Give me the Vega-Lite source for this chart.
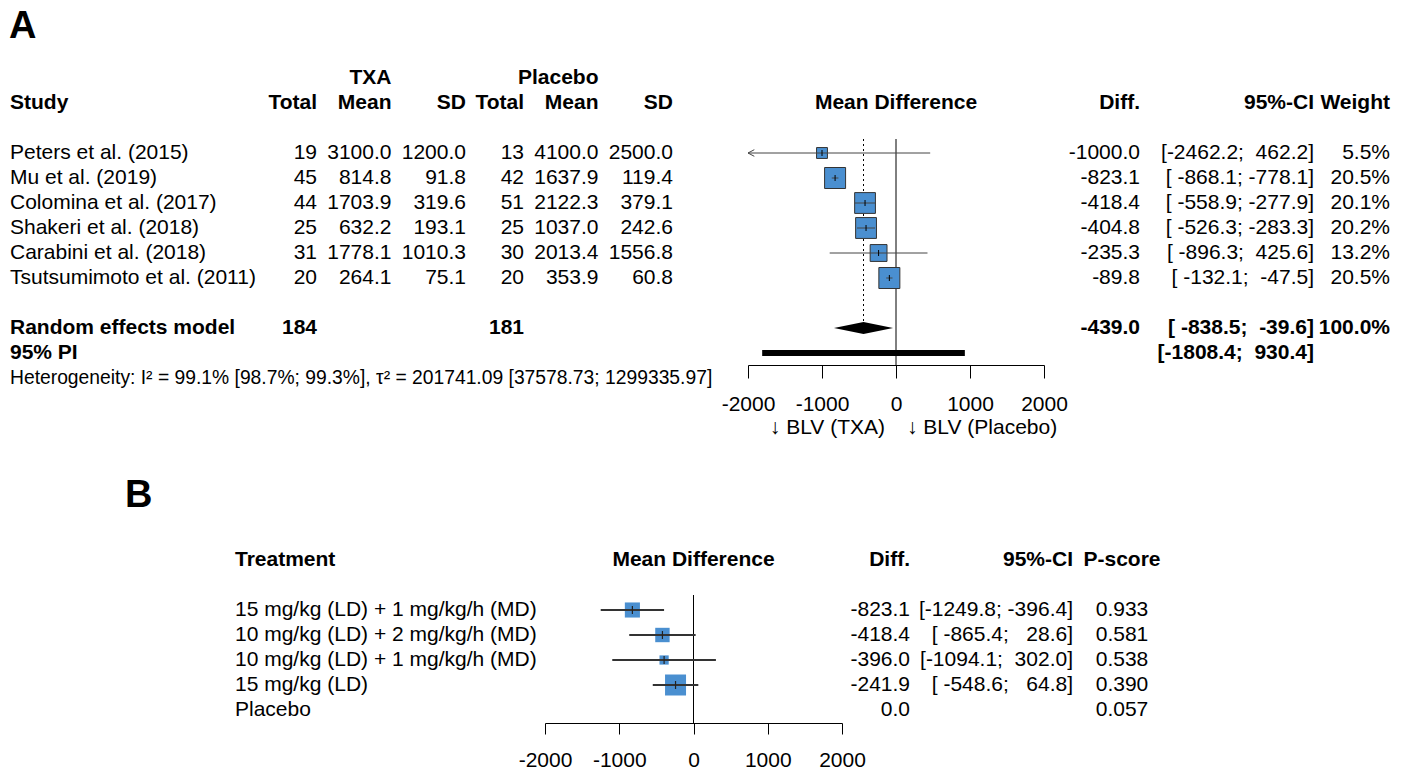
{
"$schema":"https://vega.github.io/schema/vega-lite/v6.json",
"width":1405,"height":772,"autosize":{"type":"none"},"padding":0,"background":"white",
"config":{"view":{"stroke":null},"font":"Liberation Sans","text":{"font":"Liberation Sans","fontSize":21,"color":"#000000","baseline":"middle"},"locale":{"number":{"decimal":".","thousands":",","grouping":[3],"currency":["$",""],"minus":"-"}}},
"datasets":{
"panels":[{"panel":"A"},{"panel":"B"}],
"studiesA":[
{"study":"Peters et al. (2015)","n_txa":19,"mean_txa":3100.0,"sd_txa":1200.0,"n_pl":13,"mean_pl":4100.0,"sd_pl":2500.0,"md":-1000.0,"lower":-2462.2,"upper":462.2,"ci":"[-2462.2;\u00a0\u00a0462.2]","weight":0.055},
{"study":"Mu et al. (2019)","n_txa":45,"mean_txa":814.8,"sd_txa":91.8,"n_pl":42,"mean_pl":1637.9,"sd_pl":119.4,"md":-823.1,"lower":-868.1,"upper":-778.1,"ci":"[\u00a0-868.1;\u00a0-778.1]","weight":0.205},
{"study":"Colomina et al. (2017)","n_txa":44,"mean_txa":1703.9,"sd_txa":319.6,"n_pl":51,"mean_pl":2122.3,"sd_pl":379.1,"md":-418.4,"lower":-558.9,"upper":-277.9,"ci":"[\u00a0-558.9;\u00a0-277.9]","weight":0.201},
{"study":"Shakeri et al. (2018)","n_txa":25,"mean_txa":632.2,"sd_txa":193.1,"n_pl":25,"mean_pl":1037.0,"sd_pl":242.6,"md":-404.8,"lower":-526.3,"upper":-283.3,"ci":"[\u00a0-526.3;\u00a0-283.3]","weight":0.202},
{"study":"Carabini et al. (2018)","n_txa":31,"mean_txa":1778.1,"sd_txa":1010.3,"n_pl":30,"mean_pl":2013.4,"sd_pl":1556.8,"md":-235.3,"lower":-896.3,"upper":425.6,"ci":"[\u00a0-896.3;\u00a0\u00a0425.6]","weight":0.132},
{"study":"Tsutsumimoto et al. (2011)","n_txa":20,"mean_txa":264.1,"sd_txa":75.1,"n_pl":20,"mean_pl":353.9,"sd_pl":60.8,"md":-89.8,"lower":-132.1,"upper":-47.5,"ci":"[\u00a0-132.1;\u00a0\u00a0-47.5]","weight":0.205}
],
"pooledA":[{"model":"Random effects model","pi_label":"95% PI","n_txa":184,"n_pl":181,"md":-439.0,"lower":-838.5,"upper":-39.6,"ci":"[\u00a0-838.5;\u00a0\u00a0-39.6]","weight":1.0,"pi_lower":-1808.4,"pi_upper":930.4,"pi":"[-1808.4;\u00a0\u00a0930.4]"}],
"hetA":[{"row":"Heterogeneity","label":"Heterogeneity: I² = 99.1% [98.7%; 99.3%], τ² = 201741.09 [37578.73; 1299335.97]"}],
"treatB":[
{"treatment":"15 mg/kg (LD) + 1 mg/kg/h (MD)","md":-823.1,"lower":-1249.8,"upper":-396.4,"ci":"[-1249.8;\u00a0-396.4]","pscore":0.933,"se":217.7},
{"treatment":"10 mg/kg (LD) + 2 mg/kg/h (MD)","md":-418.4,"lower":-865.4,"upper":28.6,"ci":"[\u00a0-865.4;\u00a0\u00a0\u00a028.6]","pscore":0.581,"se":228.1},
{"treatment":"10 mg/kg (LD) + 1 mg/kg/h (MD)","md":-396.0,"lower":-1094.1,"upper":302.0,"ci":"[-1094.1;\u00a0\u00a0302.0]","pscore":0.538,"se":356.1},
{"treatment":"15 mg/kg (LD)","md":-241.9,"lower":-548.6,"upper":64.8,"ci":"[\u00a0-548.6;\u00a0\u00a0\u00a064.8]","pscore":0.390,"se":156.5},
{"treatment":"Placebo","md":0.0,"pscore":0.057}
]
},
"resolve":{"scale":{"x":"independent","y":"independent","size":"independent"}},
"layer":[
{"data":{"name":"panels"},"mark":{"type":"text","align":"left","fontSize":38,"fontWeight":"bold"},
 "encoding":{"x":{"field":"panel","type":"nominal","scale":{"type":"point","padding":0,"domain":["A","B"],"range":[9,125]},"axis":null},
 "y":{"field":"panel","type":"nominal","scale":{"type":"point","padding":0,"domain":["A","B"],"range":[27,496]},"axis":null},
 "text":{"field":"panel","type":"nominal"}}},

{"data":{"values":[{"c":"study","t":"Study","r":"hdr"},{"c":"study","t":"95% PI","r":"95% PI"}]},"mark":{"type":"text","align":"left","fontWeight":"bold"},
 "encoding":{"x":{"field":"c","type":"nominal","scale":{"type":"point","padding":0,"domain":["study"],"range":[10,10]},"axis":null},
 "y":{"field":"r","type":"nominal","scale":{"type":"point","padding":0,"range":[78,428],"domain":["hdrTop","hdr","gap1","Peters et al. (2015)","Mu et al. (2019)","Colomina et al. (2017)","Shakeri et al. (2018)","Carabini et al. (2018)","Tsutsumimoto et al. (2011)","gap2","Random effects model","95% PI","Heterogeneity","ticks","blv"]},"axis":null},"text":{"field":"t","type":"nominal"}}},
{"data":{"name":"studiesA"},"mark":{"type":"text","align":"left"},
 "encoding":{"x":{"datum":"study","type":"nominal","scale":{"type":"point","padding":0,"domain":["study"],"range":[10,10]},"axis":null},
 "y":{"field":"study","type":"nominal","scale":{"type":"point","padding":0,"range":[78,428],"domain":["hdrTop","hdr","gap1","Peters et al. (2015)","Mu et al. (2019)","Colomina et al. (2017)","Shakeri et al. (2018)","Carabini et al. (2018)","Tsutsumimoto et al. (2011)","gap2","Random effects model","95% PI","Heterogeneity","ticks","blv"]},"axis":null},"text":{"field":"study","type":"nominal"}}},
{"data":{"name":"pooledA"},"mark":{"type":"text","align":"left","fontWeight":"bold"},
 "encoding":{"x":{"datum":"study","type":"nominal","scale":{"type":"point","padding":0,"domain":["study"],"range":[10,10]},"axis":null},
 "y":{"field":"model","type":"nominal","scale":{"type":"point","padding":0,"range":[78,428],"domain":["hdrTop","hdr","gap1","Peters et al. (2015)","Mu et al. (2019)","Colomina et al. (2017)","Shakeri et al. (2018)","Carabini et al. (2018)","Tsutsumimoto et al. (2011)","gap2","Random effects model","95% PI","Heterogeneity","ticks","blv"]},"axis":null},"text":{"field":"model","type":"nominal"}}},
{"data":{"name":"hetA"},"mark":{"type":"text","align":"left","fontSize":19.3},
 "encoding":{"x":{"datum":"study","type":"nominal","scale":{"type":"point","padding":0,"domain":["study"],"range":[10,10]},"axis":null},
 "y":{"field":"row","type":"nominal","scale":{"type":"point","padding":0,"range":[78,428],"domain":["hdrTop","hdr","gap1","Peters et al. (2015)","Mu et al. (2019)","Colomina et al. (2017)","Shakeri et al. (2018)","Carabini et al. (2018)","Tsutsumimoto et al. (2011)","gap2","Random effects model","95% PI","Heterogeneity","ticks","blv"]},"axis":null},"text":{"field":"label","type":"nominal"}}},

{"data":{"values":[{"c":"mean_txa","r":"hdrTop","t":"TXA"},{"c":"n_txa","r":"hdr","t":"Total"},{"c":"mean_txa","r":"hdr","t":"Mean"},{"c":"sd_txa","r":"hdr","t":"SD"}]},"mark":{"type":"text","align":"right","fontWeight":"bold"},
 "encoding":{"x":{"field":"c","type":"nominal","scale":{"type":"point","padding":0,"domain":["n_txa","mean_txa","sd_txa"],"range":[317,466]},"axis":null},
 "y":{"field":"r","type":"nominal","scale":{"type":"point","padding":0,"range":[78,428],"domain":["hdrTop","hdr","gap1","Peters et al. (2015)","Mu et al. (2019)","Colomina et al. (2017)","Shakeri et al. (2018)","Carabini et al. (2018)","Tsutsumimoto et al. (2011)","gap2","Random effects model","95% PI","Heterogeneity","ticks","blv"]},"axis":null},"text":{"field":"t","type":"nominal"}}},
{"data":{"name":"studiesA"},"mark":{"type":"text","align":"right"},
 "encoding":{"x":{"datum":"n_txa","type":"nominal","scale":{"type":"point","padding":0,"domain":["n_txa","mean_txa","sd_txa"],"range":[317,466]},"axis":null},
 "y":{"field":"study","type":"nominal","scale":{"type":"point","padding":0,"range":[78,428],"domain":["hdrTop","hdr","gap1","Peters et al. (2015)","Mu et al. (2019)","Colomina et al. (2017)","Shakeri et al. (2018)","Carabini et al. (2018)","Tsutsumimoto et al. (2011)","gap2","Random effects model","95% PI","Heterogeneity","ticks","blv"]},"axis":null},"text":{"field":"n_txa","type":"quantitative","format":"d"}}},
{"data":{"name":"studiesA"},"transform":[{"fold":["mean_txa","sd_txa"],"as":["c","v"]}],"mark":{"type":"text","align":"right"},
 "encoding":{"x":{"field":"c","type":"nominal","scale":{"type":"point","padding":0,"domain":["n_txa","mean_txa","sd_txa"],"range":[317,466]},"axis":null},
 "y":{"field":"study","type":"nominal","scale":{"type":"point","padding":0,"range":[78,428],"domain":["hdrTop","hdr","gap1","Peters et al. (2015)","Mu et al. (2019)","Colomina et al. (2017)","Shakeri et al. (2018)","Carabini et al. (2018)","Tsutsumimoto et al. (2011)","gap2","Random effects model","95% PI","Heterogeneity","ticks","blv"]},"axis":null},"text":{"field":"v","type":"quantitative","format":".1f"}}},
{"data":{"name":"pooledA"},"mark":{"type":"text","align":"right","fontWeight":"bold"},
 "encoding":{"x":{"datum":"n_txa","type":"nominal","scale":{"type":"point","padding":0,"domain":["n_txa","mean_txa","sd_txa"],"range":[317,466]},"axis":null},
 "y":{"field":"model","type":"nominal","scale":{"type":"point","padding":0,"range":[78,428],"domain":["hdrTop","hdr","gap1","Peters et al. (2015)","Mu et al. (2019)","Colomina et al. (2017)","Shakeri et al. (2018)","Carabini et al. (2018)","Tsutsumimoto et al. (2011)","gap2","Random effects model","95% PI","Heterogeneity","ticks","blv"]},"axis":null},"text":{"field":"n_txa","type":"quantitative","format":"d"}}},

{"data":{"values":[{"c":"mean_pl","r":"hdrTop","t":"Placebo"},{"c":"n_pl","r":"hdr","t":"Total"},{"c":"mean_pl","r":"hdr","t":"Mean"},{"c":"sd_pl","r":"hdr","t":"SD"}]},"mark":{"type":"text","align":"right","fontWeight":"bold"},
 "encoding":{"x":{"field":"c","type":"nominal","scale":{"type":"point","padding":0,"domain":["n_pl","mean_pl","sd_pl"],"range":[524,673]},"axis":null},
 "y":{"field":"r","type":"nominal","scale":{"type":"point","padding":0,"range":[78,428],"domain":["hdrTop","hdr","gap1","Peters et al. (2015)","Mu et al. (2019)","Colomina et al. (2017)","Shakeri et al. (2018)","Carabini et al. (2018)","Tsutsumimoto et al. (2011)","gap2","Random effects model","95% PI","Heterogeneity","ticks","blv"]},"axis":null},"text":{"field":"t","type":"nominal"}}},
{"data":{"name":"studiesA"},"mark":{"type":"text","align":"right"},
 "encoding":{"x":{"datum":"n_pl","type":"nominal","scale":{"type":"point","padding":0,"domain":["n_pl","mean_pl","sd_pl"],"range":[524,673]},"axis":null},
 "y":{"field":"study","type":"nominal","scale":{"type":"point","padding":0,"range":[78,428],"domain":["hdrTop","hdr","gap1","Peters et al. (2015)","Mu et al. (2019)","Colomina et al. (2017)","Shakeri et al. (2018)","Carabini et al. (2018)","Tsutsumimoto et al. (2011)","gap2","Random effects model","95% PI","Heterogeneity","ticks","blv"]},"axis":null},"text":{"field":"n_pl","type":"quantitative","format":"d"}}},
{"data":{"name":"studiesA"},"transform":[{"fold":["mean_pl","sd_pl"],"as":["c","v"]}],"mark":{"type":"text","align":"right"},
 "encoding":{"x":{"field":"c","type":"nominal","scale":{"type":"point","padding":0,"domain":["n_pl","mean_pl","sd_pl"],"range":[524,673]},"axis":null},
 "y":{"field":"study","type":"nominal","scale":{"type":"point","padding":0,"range":[78,428],"domain":["hdrTop","hdr","gap1","Peters et al. (2015)","Mu et al. (2019)","Colomina et al. (2017)","Shakeri et al. (2018)","Carabini et al. (2018)","Tsutsumimoto et al. (2011)","gap2","Random effects model","95% PI","Heterogeneity","ticks","blv"]},"axis":null},"text":{"field":"v","type":"quantitative","format":".1f"}}},
{"data":{"name":"pooledA"},"mark":{"type":"text","align":"right","fontWeight":"bold"},
 "encoding":{"x":{"datum":"n_pl","type":"nominal","scale":{"type":"point","padding":0,"domain":["n_pl","mean_pl","sd_pl"],"range":[524,673]},"axis":null},
 "y":{"field":"model","type":"nominal","scale":{"type":"point","padding":0,"range":[78,428],"domain":["hdrTop","hdr","gap1","Peters et al. (2015)","Mu et al. (2019)","Colomina et al. (2017)","Shakeri et al. (2018)","Carabini et al. (2018)","Tsutsumimoto et al. (2011)","gap2","Random effects model","95% PI","Heterogeneity","ticks","blv"]},"axis":null},"text":{"field":"n_pl","type":"quantitative","format":"d"}}},

{"data":{"values":[{"x":0,"r":"hdr","t":"Mean Difference"}]},"mark":{"type":"text","align":"center","fontWeight":"bold"},
 "encoding":{"x":{"field":"x","type":"quantitative","scale":{"type":"linear","domain":[-2000,2000],"range":[748,1044],"clamp":true,"nice":false,"zero":false},
   "axis":{"orient":"bottom","offset":-407,"values":[-2000,-1000,0,1000,2000],"format":"d","tickSize":13,"tickWidth":1,"tickColor":"#000000","domainColor":"#000000","domainWidth":1,"labelFont":"Liberation Sans","labelFontSize":21,"labelColor":"#000000","labelPadding":15,"labelFlush":false,"labelOverlap":false,"grid":false,"title":null}},
 "y":{"field":"r","type":"nominal","scale":{"type":"point","padding":0,"range":[78,428],"domain":["hdrTop","hdr","gap1","Peters et al. (2015)","Mu et al. (2019)","Colomina et al. (2017)","Shakeri et al. (2018)","Carabini et al. (2018)","Tsutsumimoto et al. (2011)","gap2","Random effects model","95% PI","Heterogeneity","ticks","blv"]},"axis":null},"text":{"field":"t","type":"nominal"}}},
{"data":{"values":[{"x":0,"r":"Random effects model"}]},"mark":{"type":"rule","color":"#000000","strokeWidth":1,"yOffset":-189,"y2Offset":37},
 "encoding":{"x":{"field":"x","type":"quantitative","scale":{"type":"linear","domain":[-2000,2000],"range":[748,1044],"clamp":true,"nice":false,"zero":false},"axis":null},
 "y":{"field":"r","type":"nominal","scale":{"type":"point","padding":0,"range":[78,428],"domain":["hdrTop","hdr","gap1","Peters et al. (2015)","Mu et al. (2019)","Colomina et al. (2017)","Shakeri et al. (2018)","Carabini et al. (2018)","Tsutsumimoto et al. (2011)","gap2","Random effects model","95% PI","Heterogeneity","ticks","blv"]},"axis":null},"y2":{"field":"r"}}},
{"data":{"name":"pooledA"},"mark":{"type":"rule","color":"#000000","strokeWidth":1,"strokeDash":[2,3],"yOffset":-189},
 "encoding":{"x":{"field":"md","type":"quantitative","scale":{"type":"linear","domain":[-2000,2000],"range":[748,1044],"clamp":true,"nice":false,"zero":false},"axis":null},
 "y":{"field":"model","type":"nominal","scale":{"type":"point","padding":0,"range":[78,428],"domain":["hdrTop","hdr","gap1","Peters et al. (2015)","Mu et al. (2019)","Colomina et al. (2017)","Shakeri et al. (2018)","Carabini et al. (2018)","Tsutsumimoto et al. (2011)","gap2","Random effects model","95% PI","Heterogeneity","ticks","blv"]},"axis":null},"y2":{"field":"model"}}},
{"data":{"name":"studiesA"},"mark":{"type":"square","filled":true,"fill":"#4a8fd0","stroke":"#333333","strokeWidth":1,"opacity":1},
 "encoding":{"x":{"field":"md","type":"quantitative","scale":{"type":"linear","domain":[-2000,2000],"range":[748,1044],"clamp":true,"nice":false,"zero":false},"axis":null},
 "y":{"field":"study","type":"nominal","scale":{"type":"point","padding":0,"range":[78,428],"domain":["hdrTop","hdr","gap1","Peters et al. (2015)","Mu et al. (2019)","Colomina et al. (2017)","Shakeri et al. (2018)","Carabini et al. (2018)","Tsutsumimoto et al. (2011)","gap2","Random effects model","95% PI","Heterogeneity","ticks","blv"]},"axis":null},
 "size":{"field":"weight","type":"quantitative","scale":{"type":"linear","domain":[0,0.205],"range":[0,441]},"legend":null}}},
{"data":{"name":"studiesA"},"mark":{"type":"rule","color":"#444444","strokeWidth":1},
 "encoding":{"x":{"field":"lower","type":"quantitative","scale":{"type":"linear","domain":[-2000,2000],"range":[748,1044],"clamp":true,"nice":false,"zero":false},"axis":null},"x2":{"field":"upper"},
 "y":{"field":"study","type":"nominal","scale":{"type":"point","padding":0,"range":[78,428],"domain":["hdrTop","hdr","gap1","Peters et al. (2015)","Mu et al. (2019)","Colomina et al. (2017)","Shakeri et al. (2018)","Carabini et al. (2018)","Tsutsumimoto et al. (2011)","gap2","Random effects model","95% PI","Heterogeneity","ticks","blv"]},"axis":null}}},
{"data":{"name":"studiesA"},"mark":{"type":"rule","color":"#000000","strokeWidth":1,"yOffset":-3,"y2Offset":3},
 "encoding":{"x":{"field":"md","type":"quantitative","scale":{"type":"linear","domain":[-2000,2000],"range":[748,1044],"clamp":true,"nice":false,"zero":false},"axis":null},
 "y":{"field":"study","type":"nominal","scale":{"type":"point","padding":0,"range":[78,428],"domain":["hdrTop","hdr","gap1","Peters et al. (2015)","Mu et al. (2019)","Colomina et al. (2017)","Shakeri et al. (2018)","Carabini et al. (2018)","Tsutsumimoto et al. (2011)","gap2","Random effects model","95% PI","Heterogeneity","ticks","blv"]},"axis":null},"y2":{"field":"study"}}},
{"data":{"name":"studiesA"},"transform":[{"filter":"datum.lower < -2000"}],"mark":{"type":"point","shape":"M 0.26 -0.66 L -1 0 L 0.26 0.66","filled":false,"size":100,"stroke":"#444444","strokeWidth":1,"xOffset":5,"opacity":1},
 "encoding":{"x":{"field":"lower","type":"quantitative","scale":{"type":"linear","domain":[-2000,2000],"range":[748,1044],"clamp":true,"nice":false,"zero":false},"axis":null},
 "y":{"field":"study","type":"nominal","scale":{"type":"point","padding":0,"range":[78,428],"domain":["hdrTop","hdr","gap1","Peters et al. (2015)","Mu et al. (2019)","Colomina et al. (2017)","Shakeri et al. (2018)","Carabini et al. (2018)","Tsutsumimoto et al. (2011)","gap2","Random effects model","95% PI","Heterogeneity","ticks","blv"]},"axis":null}}},
{"data":{"name":"pooledA"},"mark":{"type":"point","shape":"M -1 0 L 0 -0.2 L 1 0 L 0 0.2 Z","filled":true,"size":3493,"color":"#000000","opacity":1},
 "encoding":{"x":{"field":"md","type":"quantitative","scale":{"type":"linear","domain":[-2000,2000],"range":[748,1044],"clamp":true,"nice":false,"zero":false},"axis":null},
 "y":{"field":"model","type":"nominal","scale":{"type":"point","padding":0,"range":[78,428],"domain":["hdrTop","hdr","gap1","Peters et al. (2015)","Mu et al. (2019)","Colomina et al. (2017)","Shakeri et al. (2018)","Carabini et al. (2018)","Tsutsumimoto et al. (2011)","gap2","Random effects model","95% PI","Heterogeneity","ticks","blv"]},"axis":null}}},
{"data":{"name":"pooledA"},"mark":{"type":"rule","color":"#000000","strokeWidth":6,"strokeCap":"butt"},
 "encoding":{"x":{"field":"pi_lower","type":"quantitative","scale":{"type":"linear","domain":[-2000,2000],"range":[748,1044],"clamp":true,"nice":false,"zero":false},"axis":null},"x2":{"field":"pi_upper"},
 "y":{"field":"pi_label","type":"nominal","scale":{"type":"point","padding":0,"range":[78,428],"domain":["hdrTop","hdr","gap1","Peters et al. (2015)","Mu et al. (2019)","Colomina et al. (2017)","Shakeri et al. (2018)","Carabini et al. (2018)","Tsutsumimoto et al. (2011)","gap2","Random effects model","95% PI","Heterogeneity","ticks","blv"]},"axis":null}}},
{"data":{"values":[{"x":0,"r":"blv","t":"↓ BLV (TXA)"}]},"mark":{"type":"text","align":"right","dx":-11},
 "encoding":{"x":{"field":"x","type":"quantitative","scale":{"type":"linear","domain":[-2000,2000],"range":[748,1044],"clamp":true,"nice":false,"zero":false},"axis":null},
 "y":{"field":"r","type":"nominal","scale":{"type":"point","padding":0,"range":[78,428],"domain":["hdrTop","hdr","gap1","Peters et al. (2015)","Mu et al. (2019)","Colomina et al. (2017)","Shakeri et al. (2018)","Carabini et al. (2018)","Tsutsumimoto et al. (2011)","gap2","Random effects model","95% PI","Heterogeneity","ticks","blv"]},"axis":null},"text":{"field":"t","type":"nominal"}}},
{"data":{"values":[{"x":0,"r":"blv","t":"↓ BLV (Placebo)"}]},"mark":{"type":"text","align":"left","dx":11},
 "encoding":{"x":{"field":"x","type":"quantitative","scale":{"type":"linear","domain":[-2000,2000],"range":[748,1044],"clamp":true,"nice":false,"zero":false},"axis":null},
 "y":{"field":"r","type":"nominal","scale":{"type":"point","padding":0,"range":[78,428],"domain":["hdrTop","hdr","gap1","Peters et al. (2015)","Mu et al. (2019)","Colomina et al. (2017)","Shakeri et al. (2018)","Carabini et al. (2018)","Tsutsumimoto et al. (2011)","gap2","Random effects model","95% PI","Heterogeneity","ticks","blv"]},"axis":null},"text":{"field":"t","type":"nominal"}}},

{"data":{"values":[{"c":"md","r":"hdr","t":"Diff."}]},"mark":{"type":"text","align":"right","fontWeight":"bold"},
 "encoding":{"x":{"field":"c","type":"nominal","scale":{"type":"point","padding":0,"domain":["md"],"range":[1140,1140]},"axis":null},
 "y":{"field":"r","type":"nominal","scale":{"type":"point","padding":0,"range":[78,428],"domain":["hdrTop","hdr","gap1","Peters et al. (2015)","Mu et al. (2019)","Colomina et al. (2017)","Shakeri et al. (2018)","Carabini et al. (2018)","Tsutsumimoto et al. (2011)","gap2","Random effects model","95% PI","Heterogeneity","ticks","blv"]},"axis":null},"text":{"field":"t","type":"nominal"}}},
{"data":{"name":"studiesA"},"mark":{"type":"text","align":"right"},
 "encoding":{"x":{"datum":"md","type":"nominal","scale":{"type":"point","padding":0,"domain":["md"],"range":[1140,1140]},"axis":null},
 "y":{"field":"study","type":"nominal","scale":{"type":"point","padding":0,"range":[78,428],"domain":["hdrTop","hdr","gap1","Peters et al. (2015)","Mu et al. (2019)","Colomina et al. (2017)","Shakeri et al. (2018)","Carabini et al. (2018)","Tsutsumimoto et al. (2011)","gap2","Random effects model","95% PI","Heterogeneity","ticks","blv"]},"axis":null},"text":{"field":"md","type":"quantitative","format":".1f"}}},
{"data":{"name":"pooledA"},"mark":{"type":"text","align":"right","fontWeight":"bold"},
 "encoding":{"x":{"datum":"md","type":"nominal","scale":{"type":"point","padding":0,"domain":["md"],"range":[1140,1140]},"axis":null},
 "y":{"field":"model","type":"nominal","scale":{"type":"point","padding":0,"range":[78,428],"domain":["hdrTop","hdr","gap1","Peters et al. (2015)","Mu et al. (2019)","Colomina et al. (2017)","Shakeri et al. (2018)","Carabini et al. (2018)","Tsutsumimoto et al. (2011)","gap2","Random effects model","95% PI","Heterogeneity","ticks","blv"]},"axis":null},"text":{"field":"md","type":"quantitative","format":".1f"}}},

{"data":{"values":[{"c":"ci","r":"hdr","t":"95%-CI"}]},"mark":{"type":"text","align":"right","fontWeight":"bold"},
 "encoding":{"x":{"field":"c","type":"nominal","scale":{"type":"point","padding":0,"domain":["ci"],"range":[1314,1314]},"axis":null},
 "y":{"field":"r","type":"nominal","scale":{"type":"point","padding":0,"range":[78,428],"domain":["hdrTop","hdr","gap1","Peters et al. (2015)","Mu et al. (2019)","Colomina et al. (2017)","Shakeri et al. (2018)","Carabini et al. (2018)","Tsutsumimoto et al. (2011)","gap2","Random effects model","95% PI","Heterogeneity","ticks","blv"]},"axis":null},"text":{"field":"t","type":"nominal"}}},
{"data":{"name":"studiesA"},"mark":{"type":"text","align":"right"},
 "encoding":{"x":{"datum":"ci","type":"nominal","scale":{"type":"point","padding":0,"domain":["ci"],"range":[1314,1314]},"axis":null},
 "y":{"field":"study","type":"nominal","scale":{"type":"point","padding":0,"range":[78,428],"domain":["hdrTop","hdr","gap1","Peters et al. (2015)","Mu et al. (2019)","Colomina et al. (2017)","Shakeri et al. (2018)","Carabini et al. (2018)","Tsutsumimoto et al. (2011)","gap2","Random effects model","95% PI","Heterogeneity","ticks","blv"]},"axis":null},"text":{"field":"ci","type":"nominal"}}},
{"data":{"name":"pooledA"},"mark":{"type":"text","align":"right","fontWeight":"bold"},
 "encoding":{"x":{"datum":"ci","type":"nominal","scale":{"type":"point","padding":0,"domain":["ci"],"range":[1314,1314]},"axis":null},
 "y":{"field":"model","type":"nominal","scale":{"type":"point","padding":0,"range":[78,428],"domain":["hdrTop","hdr","gap1","Peters et al. (2015)","Mu et al. (2019)","Colomina et al. (2017)","Shakeri et al. (2018)","Carabini et al. (2018)","Tsutsumimoto et al. (2011)","gap2","Random effects model","95% PI","Heterogeneity","ticks","blv"]},"axis":null},"text":{"field":"ci","type":"nominal"}}},
{"data":{"name":"pooledA"},"mark":{"type":"text","align":"right","fontWeight":"bold"},
 "encoding":{"x":{"datum":"ci","type":"nominal","scale":{"type":"point","padding":0,"domain":["ci"],"range":[1314,1314]},"axis":null},
 "y":{"field":"pi_label","type":"nominal","scale":{"type":"point","padding":0,"range":[78,428],"domain":["hdrTop","hdr","gap1","Peters et al. (2015)","Mu et al. (2019)","Colomina et al. (2017)","Shakeri et al. (2018)","Carabini et al. (2018)","Tsutsumimoto et al. (2011)","gap2","Random effects model","95% PI","Heterogeneity","ticks","blv"]},"axis":null},"text":{"field":"pi","type":"nominal"}}},

{"data":{"values":[{"c":"weight","r":"hdr","t":"Weight"}]},"mark":{"type":"text","align":"right","fontWeight":"bold"},
 "encoding":{"x":{"field":"c","type":"nominal","scale":{"type":"point","padding":0,"domain":["weight"],"range":[1390,1390]},"axis":null},
 "y":{"field":"r","type":"nominal","scale":{"type":"point","padding":0,"range":[78,428],"domain":["hdrTop","hdr","gap1","Peters et al. (2015)","Mu et al. (2019)","Colomina et al. (2017)","Shakeri et al. (2018)","Carabini et al. (2018)","Tsutsumimoto et al. (2011)","gap2","Random effects model","95% PI","Heterogeneity","ticks","blv"]},"axis":null},"text":{"field":"t","type":"nominal"}}},
{"data":{"name":"studiesA"},"mark":{"type":"text","align":"right"},
 "encoding":{"x":{"datum":"weight","type":"nominal","scale":{"type":"point","padding":0,"domain":["weight"],"range":[1390,1390]},"axis":null},
 "y":{"field":"study","type":"nominal","scale":{"type":"point","padding":0,"range":[78,428],"domain":["hdrTop","hdr","gap1","Peters et al. (2015)","Mu et al. (2019)","Colomina et al. (2017)","Shakeri et al. (2018)","Carabini et al. (2018)","Tsutsumimoto et al. (2011)","gap2","Random effects model","95% PI","Heterogeneity","ticks","blv"]},"axis":null},"text":{"field":"weight","type":"quantitative","format":".1%"}}},
{"data":{"name":"pooledA"},"mark":{"type":"text","align":"right","fontWeight":"bold"},
 "encoding":{"x":{"datum":"weight","type":"nominal","scale":{"type":"point","padding":0,"domain":["weight"],"range":[1390,1390]},"axis":null},
 "y":{"field":"model","type":"nominal","scale":{"type":"point","padding":0,"range":[78,428],"domain":["hdrTop","hdr","gap1","Peters et al. (2015)","Mu et al. (2019)","Colomina et al. (2017)","Shakeri et al. (2018)","Carabini et al. (2018)","Tsutsumimoto et al. (2011)","gap2","Random effects model","95% PI","Heterogeneity","ticks","blv"]},"axis":null},"text":{"field":"weight","type":"quantitative","format":".1%"}}},

{"data":{"values":[{"c":"treatment","r":"hdr","t":"Treatment"}]},"mark":{"type":"text","align":"left","fontWeight":"bold"},
 "encoding":{"x":{"field":"c","type":"nominal","scale":{"type":"point","padding":0,"domain":["treatment"],"range":[235,235]},"axis":null},
 "y":{"field":"r","type":"nominal","scale":{"type":"point","padding":0,"range":[560,710],"domain":["hdr","gap","15 mg/kg (LD) + 1 mg/kg/h (MD)","10 mg/kg (LD) + 2 mg/kg/h (MD)","10 mg/kg (LD) + 1 mg/kg/h (MD)","15 mg/kg (LD)","Placebo"]},"axis":null},"text":{"field":"t","type":"nominal"}}},
{"data":{"name":"treatB"},"mark":{"type":"text","align":"left"},
 "encoding":{"x":{"datum":"treatment","type":"nominal","scale":{"type":"point","padding":0,"domain":["treatment"],"range":[235,235]},"axis":null},
 "y":{"field":"treatment","type":"nominal","scale":{"type":"point","padding":0,"range":[560,710],"domain":["hdr","gap","15 mg/kg (LD) + 1 mg/kg/h (MD)","10 mg/kg (LD) + 2 mg/kg/h (MD)","10 mg/kg (LD) + 1 mg/kg/h (MD)","15 mg/kg (LD)","Placebo"]},"axis":null},"text":{"field":"treatment","type":"nominal"}}},

{"data":{"values":[{"x":0,"r":"hdr","t":"Mean Difference"}]},"mark":{"type":"text","align":"center","fontWeight":"bold"},
 "encoding":{"x":{"field":"x","type":"quantitative","scale":{"type":"linear","domain":[-2000,2000],"range":[545,842],"clamp":true,"nice":false,"zero":false},
   "axis":{"orient":"bottom","offset":-49,"values":[-2000,-1000,0,1000,2000],"format":"d","tickSize":11,"tickWidth":1,"tickColor":"#000000","domainColor":"#000000","domainWidth":1,"labelFont":"Liberation Sans","labelFontSize":21,"labelColor":"#000000","labelPadding":15,"labelFlush":false,"labelOverlap":false,"grid":false,"title":null}},
 "y":{"field":"r","type":"nominal","scale":{"type":"point","padding":0,"range":[560,710],"domain":["hdr","gap","15 mg/kg (LD) + 1 mg/kg/h (MD)","10 mg/kg (LD) + 2 mg/kg/h (MD)","10 mg/kg (LD) + 1 mg/kg/h (MD)","15 mg/kg (LD)","Placebo"]},"axis":null},"text":{"field":"t","type":"nominal"}}},
{"data":{"values":[{"x":0,"r":"Placebo"}]},"mark":{"type":"rule","color":"#000000","strokeWidth":1,"yOffset":-115,"y2Offset":13},
 "encoding":{"x":{"field":"x","type":"quantitative","scale":{"type":"linear","domain":[-2000,2000],"range":[545,842],"clamp":true,"nice":false,"zero":false},"axis":null},
 "y":{"field":"r","type":"nominal","scale":{"type":"point","padding":0,"range":[560,710],"domain":["hdr","gap","15 mg/kg (LD) + 1 mg/kg/h (MD)","10 mg/kg (LD) + 2 mg/kg/h (MD)","10 mg/kg (LD) + 1 mg/kg/h (MD)","15 mg/kg (LD)","Placebo"]},"axis":null},"y2":{"field":"r"}}},
{"data":{"name":"treatB"},"transform":[{"filter":"isValid(datum.lower)"}],"mark":{"type":"square","filled":true,"fill":"#4a8fd0","opacity":1},
 "encoding":{"x":{"field":"md","type":"quantitative","scale":{"type":"linear","domain":[-2000,2000],"range":[545,842],"clamp":true,"nice":false,"zero":false},"axis":null},
 "y":{"field":"treatment","type":"nominal","scale":{"type":"point","padding":0,"range":[560,710],"domain":["hdr","gap","15 mg/kg (LD) + 1 mg/kg/h (MD)","10 mg/kg (LD) + 2 mg/kg/h (MD)","10 mg/kg (LD) + 1 mg/kg/h (MD)","15 mg/kg (LD)","Placebo"]},"axis":null},
 "size":{"field":"se","type":"quantitative","scale":{"type":"pow","exponent":-2,"domain":[156.5,356.1],"range":[441,85],"zero":false},"legend":null}}},
{"data":{"name":"treatB"},"transform":[{"filter":"isValid(datum.lower)"}],"mark":{"type":"rule","color":"#333333","strokeWidth":1.8},
 "encoding":{"x":{"field":"lower","type":"quantitative","scale":{"type":"linear","domain":[-2000,2000],"range":[545,842],"clamp":true,"nice":false,"zero":false},"axis":null},"x2":{"field":"upper"},
 "y":{"field":"treatment","type":"nominal","scale":{"type":"point","padding":0,"range":[560,710],"domain":["hdr","gap","15 mg/kg (LD) + 1 mg/kg/h (MD)","10 mg/kg (LD) + 2 mg/kg/h (MD)","10 mg/kg (LD) + 1 mg/kg/h (MD)","15 mg/kg (LD)","Placebo"]},"axis":null}}},
{"data":{"name":"treatB"},"transform":[{"filter":"isValid(datum.lower)"}],"mark":{"type":"rule","color":"#222222","strokeWidth":1.2,"yOffset":-4,"y2Offset":4},
 "encoding":{"x":{"field":"md","type":"quantitative","scale":{"type":"linear","domain":[-2000,2000],"range":[545,842],"clamp":true,"nice":false,"zero":false},"axis":null},
 "y":{"field":"treatment","type":"nominal","scale":{"type":"point","padding":0,"range":[560,710],"domain":["hdr","gap","15 mg/kg (LD) + 1 mg/kg/h (MD)","10 mg/kg (LD) + 2 mg/kg/h (MD)","10 mg/kg (LD) + 1 mg/kg/h (MD)","15 mg/kg (LD)","Placebo"]},"axis":null},"y2":{"field":"treatment"}}},

{"data":{"values":[{"c":"md","r":"hdr","t":"Diff."}]},"mark":{"type":"text","align":"right","fontWeight":"bold"},
 "encoding":{"x":{"field":"c","type":"nominal","scale":{"type":"point","padding":0,"domain":["md"],"range":[910,910]},"axis":null},
 "y":{"field":"r","type":"nominal","scale":{"type":"point","padding":0,"range":[560,710],"domain":["hdr","gap","15 mg/kg (LD) + 1 mg/kg/h (MD)","10 mg/kg (LD) + 2 mg/kg/h (MD)","10 mg/kg (LD) + 1 mg/kg/h (MD)","15 mg/kg (LD)","Placebo"]},"axis":null},"text":{"field":"t","type":"nominal"}}},
{"data":{"name":"treatB"},"mark":{"type":"text","align":"right"},
 "encoding":{"x":{"datum":"md","type":"nominal","scale":{"type":"point","padding":0,"domain":["md"],"range":[910,910]},"axis":null},
 "y":{"field":"treatment","type":"nominal","scale":{"type":"point","padding":0,"range":[560,710],"domain":["hdr","gap","15 mg/kg (LD) + 1 mg/kg/h (MD)","10 mg/kg (LD) + 2 mg/kg/h (MD)","10 mg/kg (LD) + 1 mg/kg/h (MD)","15 mg/kg (LD)","Placebo"]},"axis":null},"text":{"field":"md","type":"quantitative","format":".1f"}}},

{"data":{"values":[{"c":"ci","r":"hdr","t":"95%-CI"}]},"mark":{"type":"text","align":"right","fontWeight":"bold"},
 "encoding":{"x":{"field":"c","type":"nominal","scale":{"type":"point","padding":0,"domain":["ci"],"range":[1073,1073]},"axis":null},
 "y":{"field":"r","type":"nominal","scale":{"type":"point","padding":0,"range":[560,710],"domain":["hdr","gap","15 mg/kg (LD) + 1 mg/kg/h (MD)","10 mg/kg (LD) + 2 mg/kg/h (MD)","10 mg/kg (LD) + 1 mg/kg/h (MD)","15 mg/kg (LD)","Placebo"]},"axis":null},"text":{"field":"t","type":"nominal"}}},
{"data":{"name":"treatB"},"transform":[{"filter":"isValid(datum.ci)"}],"mark":{"type":"text","align":"right"},
 "encoding":{"x":{"datum":"ci","type":"nominal","scale":{"type":"point","padding":0,"domain":["ci"],"range":[1073,1073]},"axis":null},
 "y":{"field":"treatment","type":"nominal","scale":{"type":"point","padding":0,"range":[560,710],"domain":["hdr","gap","15 mg/kg (LD) + 1 mg/kg/h (MD)","10 mg/kg (LD) + 2 mg/kg/h (MD)","10 mg/kg (LD) + 1 mg/kg/h (MD)","15 mg/kg (LD)","Placebo"]},"axis":null},"text":{"field":"ci","type":"nominal"}}},

{"data":{"values":[{"c":"pscore","r":"hdr","t":"P-score"}]},"mark":{"type":"text","align":"center","fontWeight":"bold"},
 "encoding":{"x":{"field":"c","type":"nominal","scale":{"type":"point","padding":0,"domain":["pscore"],"range":[1122,1122]},"axis":null},
 "y":{"field":"r","type":"nominal","scale":{"type":"point","padding":0,"range":[560,710],"domain":["hdr","gap","15 mg/kg (LD) + 1 mg/kg/h (MD)","10 mg/kg (LD) + 2 mg/kg/h (MD)","10 mg/kg (LD) + 1 mg/kg/h (MD)","15 mg/kg (LD)","Placebo"]},"axis":null},"text":{"field":"t","type":"nominal"}}},
{"data":{"name":"treatB"},"mark":{"type":"text","align":"center"},
 "encoding":{"x":{"datum":"pscore","type":"nominal","scale":{"type":"point","padding":0,"domain":["pscore"],"range":[1122,1122]},"axis":null},
 "y":{"field":"treatment","type":"nominal","scale":{"type":"point","padding":0,"range":[560,710],"domain":["hdr","gap","15 mg/kg (LD) + 1 mg/kg/h (MD)","10 mg/kg (LD) + 2 mg/kg/h (MD)","10 mg/kg (LD) + 1 mg/kg/h (MD)","15 mg/kg (LD)","Placebo"]},"axis":null},"text":{"field":"pscore","type":"quantitative","format":".3f"}}}
]
}
